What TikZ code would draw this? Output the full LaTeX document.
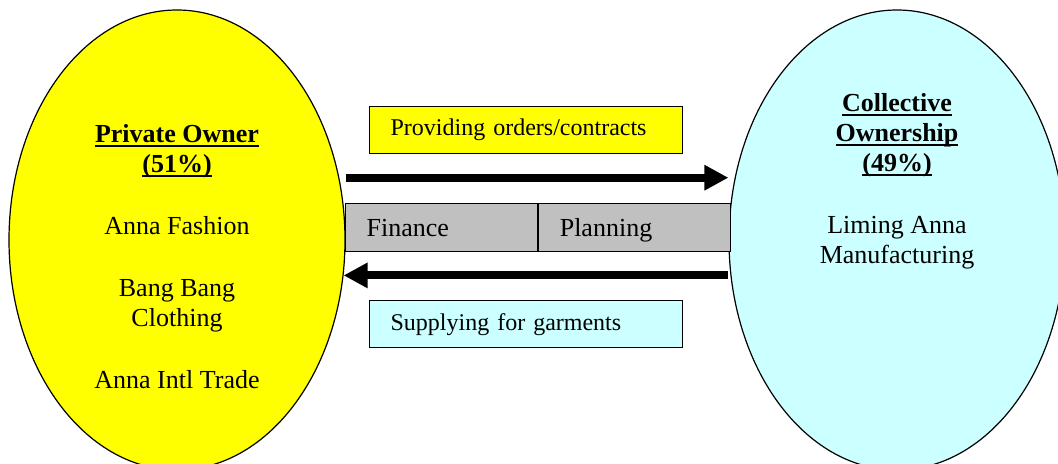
\documentclass[tikz,border=0pt]{standalone}
\usepackage{fontspec}
\setmainfont{Liberation Serif}
\usepackage{tikz}
\usetikzlibrary{shapes,arrows.meta,positioning}
\usepackage{xcolor}
\definecolor{ownyellow}{RGB}{255,255,0}
\definecolor{ownblue}{RGB}{204,255,255}
\definecolor{bargrey}{RGB}{192,192,192}
% bold heading with a rule at a fixed depth
\newlength\headwd
\newcommand\headline[1]{\settowidth\headwd{\textbf{#1}}\textbf{#1}\llap{\rule[-2pt]{\headwd}{0.9pt}}}

\begin{document}
\begin{tikzpicture}[
    x=0.5pt, y=-0.5pt,
    owner/.style={ellipse, draw, line width=0.6pt, minimum width=168pt, minimum height=230pt, inner sep=0pt},
    owntext/.style={align=center, inner sep=0pt, font=\fontsize{13}{15}\selectfont},
    flow/.style={rectangle, draw, line width=0.6pt, minimum height=23.5pt, inner xsep=10.5pt, inner ysep=0pt, text width=135.5pt, align=left, font=\fontsize{12}{14}\selectfont},
    cell/.style={rectangle, draw, line width=0.6pt, fill=bargrey, minimum height=24pt, inner xsep=10.5pt, inner ysep=0pt, text width=75pt, align=left, text height=9pt, text depth=0pt, font=\fontsize{13}{15}\selectfont},
    bigarrow/.style={line width=4pt, -{Triangle[length=12pt,width=12pt]}}
]
    \useasboundingbox (0,0) rectangle (1058,464);

    \node[owner, fill=ownyellow] (priv) at (177,240) {};
    \node[owner, fill=ownblue] (coll) at (897,240) {};

    \node[owntext, below=57.5pt of priv.north] (privtxt) {\headline{Private Owner}\\\headline{(51\%)}\\[16pt]Anna Fashion\\[16pt]Bang Bang\\Clothing\\[16pt]Anna Intl Trade};
    \node[owntext, below=42pt of coll.north] (colltxt) {\headline{Collective}\\\headline{Ownership}\\\headline{(49\%)}\\[16pt]Liming Anna\\Manufacturing};

    \node[cell, anchor=north west] (fin) at (345,203) {Finance};
    \node[cell, right=0pt of fin] (plan) {Planning};

    \node[flow, fill=ownyellow, above right=24.5pt and 12pt of fin.north west] (orders) {Providing orders/contracts};
    \node[flow, fill=ownblue, below right=24pt and 12pt of fin.south west] (supply) {Supplying for garments};

    \draw[bigarrow, shorten <=3.5pt] (priv.21) -- (priv.21 -| coll.west);
    \draw[bigarrow] (priv.-12 -| coll.west) -- (priv.-12);
\end{tikzpicture}
\end{document}
